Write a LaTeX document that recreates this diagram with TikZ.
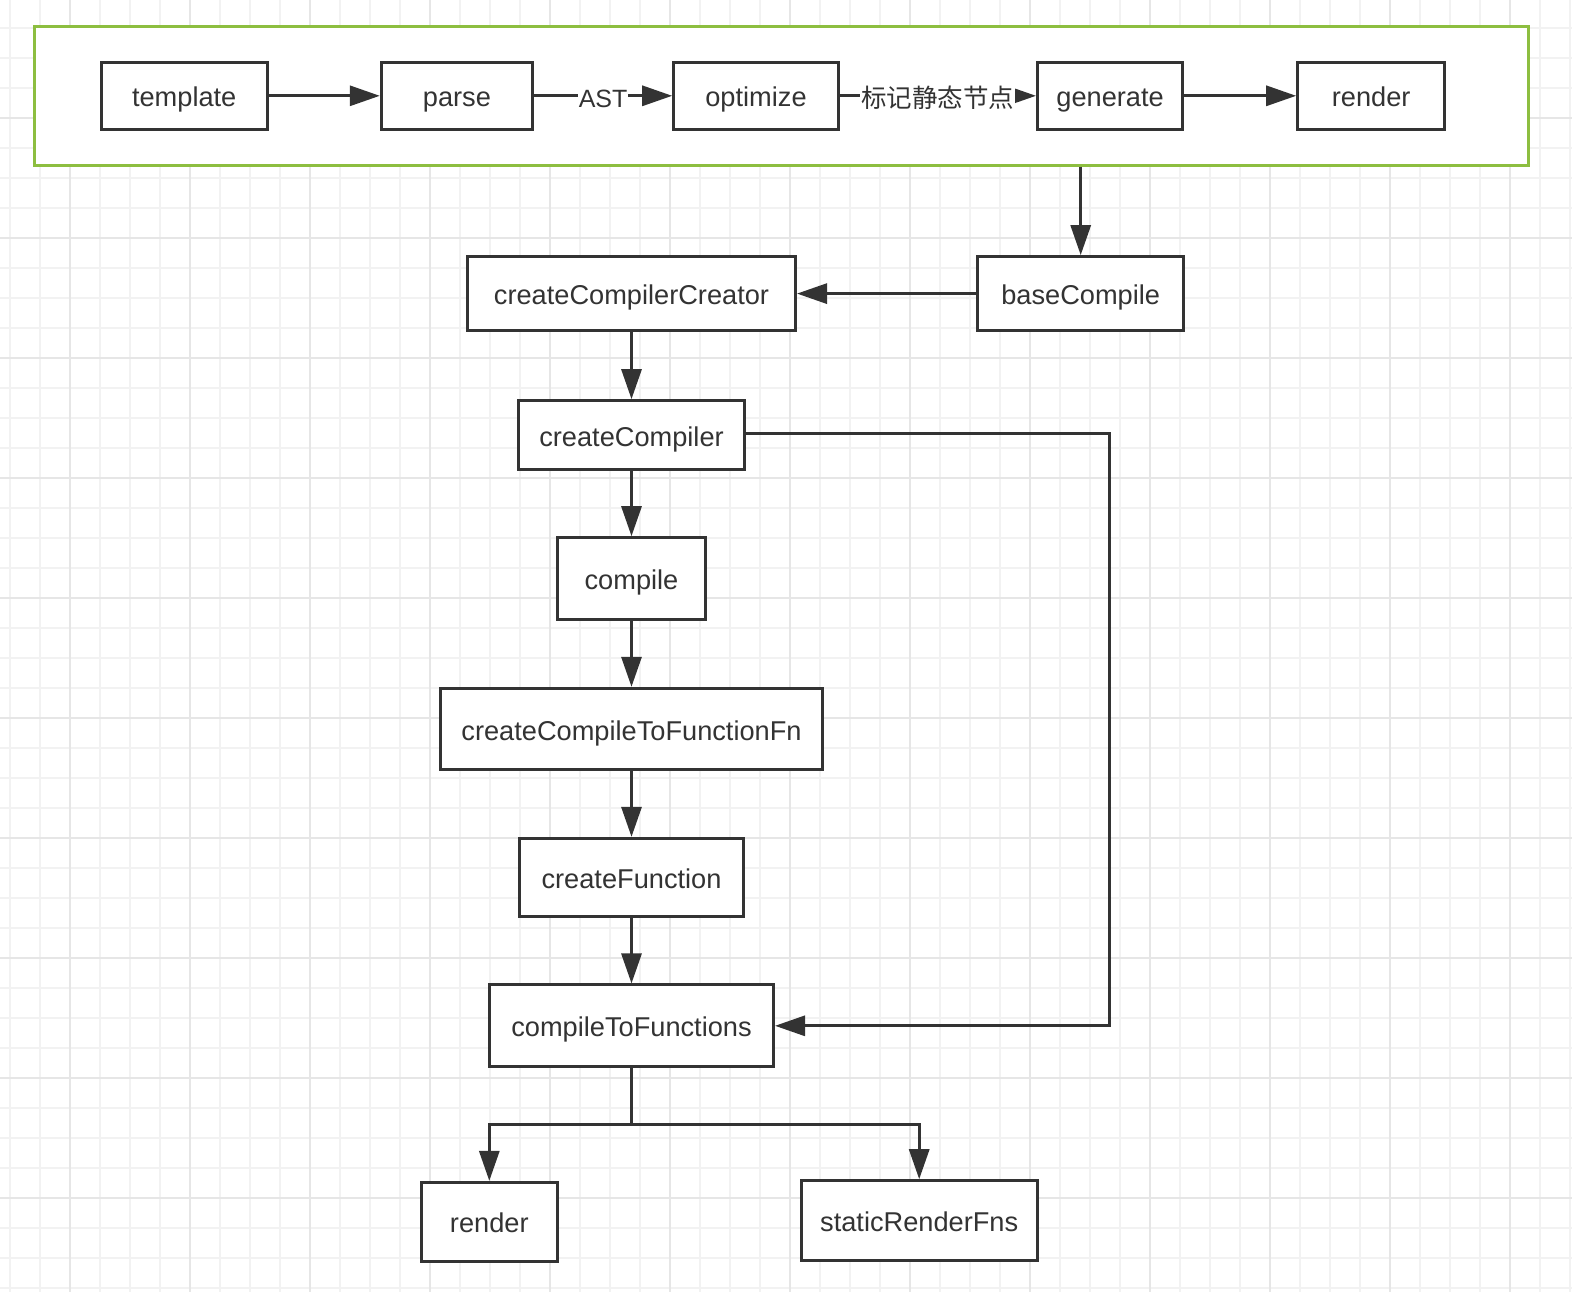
\documentclass[tikz,border=0pt]{standalone}
\usepackage{fontspec}
\setmainfont{Liberation Sans}
\newfontfamily\cjkfont{Noto Sans CJK SC}
\usetikzlibrary{arrows.meta}
\definecolor{ink}{HTML}{333333}
\definecolor{grp}{RGB}{141,190,64}
\definecolor{gminor}{HTML}{F2F2F2}
\definecolor{gmajor}{HTML}{E6E6E6}
\begin{document}
\begin{tikzpicture}[x=1bp,y=-1bp,
  box/.style={draw=ink, line width=3bp, fill=white, inner sep=0pt, text=ink, text height=22bp, text depth=0pt, font=\fontsize{27.2bp}{30bp}\selectfont},
  conn/.style={draw=ink, line width=3bp, -{Triangle[length=30bp,width=20bp]}},
  plain/.style={draw=ink, line width=3bp},
  lbl/.style={fill=white, text=ink, inner sep=1bp, text height=22.6bp, text depth=0pt, font=\fontsize{25bp}{28bp}\selectfont},
  lblcjk/.style={fill=white, text=ink, inner sep=1bp, text height=24bp, text depth=0pt, font=\cjkfont\fontsize{25.5bp}{28bp}\selectfont}]
\fill[white] (0,0) rectangle (1572,1292);
\useasboundingbox (0,0) rectangle (1572,1292);
% grid
\foreach \i in {0,...,52} \draw[gminor, line width=1.2bp] ({10+30*\i},0) -- ({10+30*\i},1292);
\foreach \i in {0,...,42} \draw[gminor, line width=1.2bp] (0,{28+30*\i}) -- (1572,{28+30*\i});
\foreach \i in {0,...,12} \draw[gmajor, line width=1.4bp] ({70+120*\i},0) -- ({70+120*\i},1292);
\foreach \i in {0,...,9} \draw[gmajor, line width=1.4bp] (0,{118+120*\i}) -- (1572,{118+120*\i});
% container
\node[draw=grp, line width=3bp, fill=white, minimum width=1493.7bp, minimum height=138.7bp, inner sep=0pt] (group) at (781.8,95.7) {};
% top row
\node[box, minimum width=165.7bp, minimum height=66.7bp] (tmpl) at (184.2,95.8) {template};
\node[box, minimum width=151.2bp, minimum height=66.7bp] (parse) at (456.9,95.8) {parse};
\node[box, minimum width=164.6bp, minimum height=66.7bp] (opt) at (756,95.8) {optimize};
\node[box, minimum width=145.2bp, minimum height=66.7bp] (gen) at (1110.1,95.8) {generate};
\node[box, minimum width=147bp, minimum height=66.7bp] (rtop) at (1371.2,95.8) {render};
\draw[conn] (tmpl) -- (parse);
\draw[conn] (parse) -- node[lbl]{AST} (opt);
\draw[conn] (opt) -- node[lblcjk]{标记静态节点} (gen);
\draw[conn] (gen) -- (rtop);
% main column
\node[box, minimum width=206bp, minimum height=74bp] (base) at (1080.7,293.6) {baseCompile};
\node[box, minimum width=328bp, minimum height=73.6bp] (ccc) at (631.5,293.6) {createCompilerCreator};
\node[box, minimum width=225.3bp, minimum height=69.3bp] (cc) at (631.5,435.3) {createCompiler};
\node[box, minimum width=148bp, minimum height=81.6bp] (comp) at (631.5,578.5) {compile};
\node[box, minimum width=382bp, minimum height=81.4bp] (cctf) at (631.5,729) {createCompileToFunctionFn};
\node[box, minimum width=223.3bp, minimum height=77.7bp] (cf) at (631.5,877.2) {createFunction};
\node[box, minimum width=284bp, minimum height=81.7bp] (ctf) at (631.5,1025.8) {compileToFunctions};
\node[box, minimum width=136.6bp, minimum height=78.7bp] (rbot) at (489.3,1221.7) {render};
\node[box, minimum width=236.3bp, minimum height=80bp] (srf) at (919.2,1220.7) {staticRenderFns};
\coordinate (bend) at (1109.5,433.7);
\coordinate (split) at (631.5,1124.3);
\draw[conn] (group.south -| base.north) -- (base.north);
\draw[conn] (base) -- (ccc);
\draw[conn] (ccc) -- (cc);
\draw[conn] (cc) -- (comp);
\draw[conn] (comp) -- (cctf);
\draw[conn] (cctf) -- (cf);
\draw[conn] (cf) -- (ctf);
\draw[conn] (bend -| cc.east) -- (bend) |- (ctf.east);
\draw[plain] (ctf.south) -- (split);
\draw[conn] (split) -| (rbot.north);
\draw[conn] (split) -| (srf.north);
\end{tikzpicture}
\end{document}
